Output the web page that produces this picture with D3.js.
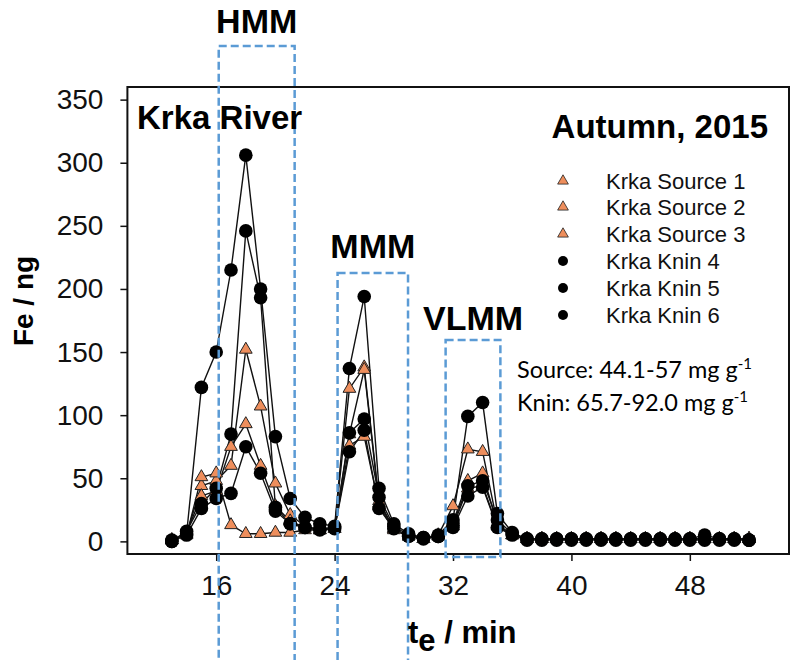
<!DOCTYPE html>
<html>
<head>
<meta charset="utf-8">
<script src="https://cdn.jsdelivr.net/npm/d3@7"></script>
<style>
  body { margin: 0; background: #fff; }
  svg { display: block; }
</style>
</head>
<body>
<svg id="chart" width="794" height="660"></svg>
<script>
// Elution time (min) of each collected fraction
const elutionTimes = [13,14,15,16,17,18,19,20,21,22,23,24,25,26,27,28,29,30,31,32,33,34,35,36,37,38,39,40,41,42,43,44,45,46,47,48,49,50,51,52];

// Fe (ng) per fraction, Krka source samples
const krkaSource1 = [1,6,44,48,60,152,107,46,21,12,9,11,121,138,32,10,4,2,5,28,73,71,14,5,2,2,2,2,2,2,2,2,2,2,2,2,2,2,2,2];
const krkaSource2 = [1,7,36,40,75,93,60,28,16,11,9,10,85,136,30,10,4,2,4,15,48,54,13,5,2,2,2,2,2,2,2,2,2,2,2,2,2,2,2,2];
const krkaSource3 = [1,5,51,54,13,6,6,7,7,9,9,10,76,83,28,9,4,2,4,12,42,44,12,5,2,2,2,2,2,2,2,2,2,2,2,2,2,2,2,2];

// Fe (ng) per fraction, Krka at Knin
const krkaKnin4 = [1,6,122,150,215,306,200,83,34,19,14,12,137,194,42,14,6,3,5,17,99,110,22,7,2,2,2,2,2,2,2,2,2,2,2,2,5,2,2,1];
const krkaKnin5 = [0,8,30,42,85,246,193,27,14,11,10,11,86,97,35,12,5,3,4,14,44,48,17,6,2,2,2,2,2,2,2,2,2,2,2,2,2,2,2,1];
const krkaKnin6 = [0,5,26,34,38,75,54,24,14,11,9,10,71,88,26,10,4,2,4,11,36,43,11,5,1,1,1,1,1,1,1,1,1,1,1,1,1,1,1,1];

const seriesNames = ["Krka Source 1","Krka Source 2","Krka Source 3","Krka Knin 4","Krka Knin 5","Krka Knin 6"];
const seriesValues = [krkaSource1, krkaSource2, krkaSource3, krkaKnin4, krkaKnin5, krkaKnin6];
const seriesKinds = ["source","source","source","knin","knin","knin"];

const yTickValues = [0,50,100,150,200,250,300,350];
const xTickValues = [16,24,32,40,48];

// Molecular-mass fractions (elution-time windows)
const fractionLabels = ["HMM","MMM","VLMM"];
const fractionStart = [16.17, 24.2, 31.5];
const fractionEnd = [21.3, 28.96, 35.2];

const svg = d3.select("#chart");
const plot = { left: 127.4, right: 789, top: 87, bottom: 554 };

const x = d3.scaleLinear().domain([10, 54.7]).range([plot.left, plot.right]);
const y = d3.scaleLinear().domain([-10, 360]).range([plot.bottom, plot.top]);

const sansFont = "'Liberation Sans', Arial, sans-serif";
const orange = "#EE8E5C";
const boxBlue = "#5B9BD5";

// Axes
const xAxis = d3.axisBottom(x).tickValues(xTickValues).tickSize(7).tickPadding(14).tickFormat(d3.format("d"));
const yAxis = d3.axisLeft(y).tickValues(yTickValues).tickSize(7).tickPadding(17).tickFormat(d3.format("d"));

const gx = svg.append("g").attr("transform", `translate(0,${plot.bottom})`).call(xAxis);
const gy = svg.append("g").attr("transform", `translate(${plot.left},0)`).call(yAxis);
[gx, gy].forEach(g => {
  g.select(".domain").remove();
  g.selectAll(".tick line").attr("stroke", "#111").attr("stroke-width", 1.5);
  g.selectAll(".tick text").attr("fill", "#111").style("font-family", sansFont).style("font-size", "28px");
});
gx.selectAll(".tick text").attr("dy", "0.71em");

// Frame
svg.append("rect")
  .attr("x", plot.left).attr("y", plot.top)
  .attr("width", plot.right - plot.left).attr("height", plot.bottom - plot.top)
  .attr("fill", "none").attr("stroke", "#111").attr("stroke-width", 2);

// Series lines
const line = d3.line().x((d, i) => x(elutionTimes[i])).y(d => y(d));
const gSeries = svg.append("g");
seriesValues.forEach((vals) => {
  gSeries.append("path").datum(vals)
    .attr("d", line).attr("fill", "none")
    .attr("stroke", "#111").attr("stroke-width", 1.4);
});

// Markers
const triangle = d3.symbol().type(d3.symbolTriangle).size(70);
const triangleSmall = d3.symbol().type(d3.symbolTriangle).size(50);
seriesValues.forEach((vals, s) => {
  const g = gSeries.append("g");
  if (seriesKinds[s] === "source") {
    g.selectAll("path").data(vals).join("path")
      .attr("d", triangle)
      .attr("transform", (d, i) => `translate(${x(elutionTimes[i])},${y(d)})`)
      .attr("fill", orange).attr("stroke", "#222").attr("stroke-width", 1);
  } else {
    g.selectAll("circle").data(vals).join("circle")
      .attr("cx", (d, i) => x(elutionTimes[i])).attr("cy", d => y(d))
      .attr("r", 6.8).attr("fill", "#000");
  }
});

// Fraction windows
const boxes = svg.append("g").attr("fill", "none").attr("stroke", boxBlue)
  .attr("stroke-width", 2.5).attr("stroke-dasharray", "8,4");
const boxTop = [46, 273, 340];
const boxBottom = [720, 720, 557];
const labelBaseline = [33, 258, 330];
fractionLabels.forEach((lab, i) => {
  const x0 = x(fractionStart[i]), x1 = x(fractionEnd[i]);
  boxes.append("rect").attr("x", x0).attr("y", boxTop[i])
    .attr("width", x1 - x0).attr("height", boxBottom[i] - boxTop[i]);
  svg.append("text").attr("x", (x0 + x1) / 2).attr("y", labelBaseline[i])
    .attr("text-anchor", "middle")
    .style("font-family", sansFont).style("font-weight", "bold").style("font-size", "34px")
    .attr("fill", "#000").text(lab);
});

// Titles
svg.append("text").attr("x", 137).attr("y", 129)
  .style("font-family", sansFont).style("font-weight", "bold").style("font-size", "33px")
  .text("Krka River");
svg.append("text").attr("x", 768).attr("y", 138).attr("text-anchor", "end")
  .style("font-family", sansFont).style("font-weight", "bold").style("font-size", "33px")
  .text("Autumn, 2015");

// Axis titles
svg.append("text")
  .attr("transform", "translate(33,301) rotate(-90)")
  .attr("text-anchor", "middle")
  .style("font-family", sansFont).style("font-weight", "bold").style("font-size", "28px")
  .text("Fe / ng");
const xt = svg.append("text").attr("x", 408).attr("y", 643)
  .style("font-family", sansFont).style("font-weight", "bold").style("font-size", "31px");
xt.append("tspan").text("t");
xt.append("tspan").attr("dy", 8).text("e");
xt.append("tspan").attr("dy", -8).text(" / min");

// Legend
const legendRows = [181, 207, 234, 261, 288, 315];
const legend = svg.append("g");
seriesNames.forEach((name, i) => {
  const ly = legendRows[i];
  if (seriesKinds[i] === "source") {
    legend.append("path").attr("d", triangleSmall)
      .attr("transform", `translate(563,${ly})`)
      .attr("fill", orange).attr("stroke", "#222").attr("stroke-width", 0.8);
  } else {
    legend.append("circle").attr("cx", 563).attr("cy", ly).attr("r", 5).attr("fill", "#000");
  }
  legend.append("text").attr("x", 606).attr("y", ly + 8)
    .style("font-family", sansFont).style("font-size", "22px").attr("fill", "#111")
    .text(name);
});

// Fe content annotation
const noteFont = "Lato, 'Open Sans', sans-serif";
const notes = [["Source: 44.1-57 mg g", 378], ["Knin: 65.7-92.0 mg g", 411]];
notes.forEach(([t, by]) => {
  const tx = svg.append("text").attr("x", 517).attr("y", by)
    .style("font-family", noteFont).style("font-size", "23.5px").attr("fill", "#000");
  tx.append("tspan").text(t);
  tx.append("tspan").attr("dy", -9).style("font-size", "15px").text("-1");
});
</script>
</body>
</html>
